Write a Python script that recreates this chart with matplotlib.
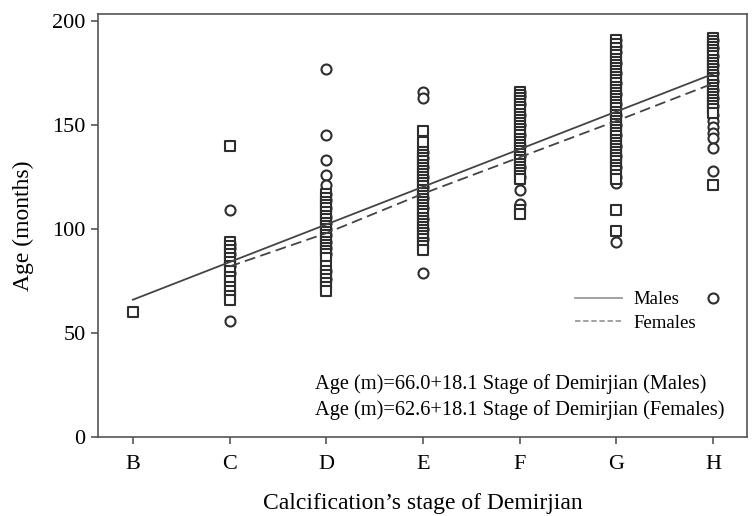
import matplotlib
matplotlib.use("Agg")
import matplotlib.pyplot as plt
from matplotlib.lines import Line2D

plt.rcParams['font.family'] = ['Liberation Serif', 'DejaVu Serif']

stages = ["B", "C", "D", "E", "F", "G", "H"]

# Males (circles)
male_C = [109, 93, 91, 88, 82, 79, 56]
male_D = [177, 145, 133, 126, 121, 117, 114, 110, 106, 103, 100, 97, 94, 91, 88, 80, 76]
male_E = [166, 163, 137, 134, 130, 125, 120, 115, 110, 105, 100, 95, 79]
male_F = [166, 164, 160, 155, 150, 145, 140, 135, 130, 125, 119, 112]
male_G = [191, 188, 185, 180, 175, 170, 165, 160, 155, 150, 145, 140, 135, 130, 125, 122, 94]
male_H = [191, 187, 183, 179, 175, 171, 167, 163, 159, 155, 152, 149, 146, 144, 139, 128, 67]

# Females (squares)
fem_B = [60]
fem_C = [140, 94, 92, 90, 88, 86, 84, 82, 80, 77, 75, 72, 70, 68, 66]
fem_D = [117, 115, 113, 111.5, 110, 108, 106.5, 105, 103, 101.5, 100, 98.5, 97, 95.5, 94,
         92.5, 91, 89.5, 88, 86, 82, 80, 78, 76, 74, 72, 70]
fem_E = [147, 142, 137, 135.5, 134, 132.5, 131, 129.5, 128, 126.5, 125, 123.5, 122, 120.5,
         119, 117.5, 116, 114.5, 113, 111.5, 110, 108.5, 107, 105.5, 104, 102.5, 101, 99.5,
         98, 96.5, 95, 93.5, 92, 90]
fem_F = [166, 164.5, 163, 161.5, 160, 158.5, 157, 155.5, 154, 152.5, 151, 149.5, 148, 146.5,
         145, 143.5, 142, 140.5, 139, 137.5, 136, 134.5, 133, 131.5, 130, 128.5, 127, 125.5,
         124, 109, 107]
fem_G = [191, 189, 187, 185, 183.5, 182, 180.5, 179, 177.5, 176, 174.5, 173, 171.5, 170,
         168.5, 167, 165.5, 164, 162.5, 161, 159.5, 158, 156.5, 155, 153.5, 152, 150.5, 149,
         147.5, 146, 144.5, 143, 141.5, 140, 138.5, 137, 135.5, 134, 132.5, 131, 129.5, 128,
         126, 124, 109, 99]
fem_H = [192, 190.5, 189, 187.5, 186, 184.5, 183, 181.5, 180, 178.5, 177, 175.5, 174, 172.5,
         171, 169.5, 168, 166.5, 165, 163.5, 162, 160.5, 159, 157.5, 156, 121]

male_points = {"C": male_C, "D": male_D, "E": male_E, "F": male_F, "G": male_G, "H": male_H}
fem_points = {"B": fem_B, "C": fem_C, "D": fem_D, "E": fem_E, "F": fem_F, "G": fem_G, "H": fem_H}

# Fitted lines
male_line_stages = ["B", "H"]
male_line_vals = [66.0, 174.6]
fem_line_stages = ["C", "D", "E", "F", "G", "H"]
fem_line_vals = [82, 98, 117, 134.5, 152, 170]

eq_texts = ["Age (m)=66.0+18.1 Stage of Demirjian (Males)",
            "Age (m)=62.6+18.1 Stage of Demirjian (Females)"]

fig = plt.figure(figsize=(7.53, 5.16), dpi=100)
ax = fig.add_axes([98/753, 1-437/516, (747-98)/753, (437-14)/516])

idx = {s: i for i, s in enumerate(stages)}
mk_col = '#2e2e2e'
for s, vals in male_points.items():
    ax.scatter([idx[s]]*len(vals), vals, marker='o', s=52, facecolors='white',
               edgecolors=mk_col, linewidths=1.5, zorder=2)
for s, vals in fem_points.items():
    ax.scatter([idx[s]]*len(vals), vals, marker='s', s=48, facecolors='white',
               edgecolors=mk_col, linewidths=1.5, zorder=3)

ax.plot([idx[s] for s in male_line_stages], male_line_vals, color='#444444', lw=1.3, zorder=4)
ax.plot([idx[s] for s in fem_line_stages], fem_line_vals, color='#444444', lw=1.3,
        dashes=(6, 3), zorder=4)

ax.set_xlim(-0.36, 6.35)
ax.set_ylim(0, 203.4)
ax.set_xticks(range(len(stages)))
ax.set_xticklabels(stages)
ax.set_yticks([0, 50, 100, 150, 200])
ax.tick_params(direction='out', length=5, width=1.2, color='#555555', labelsize=16, pad=4)
ax.tick_params(axis='x', pad=8)
for sp in ax.spines.values():
    sp.set_color('#555555')
    sp.set_linewidth(1.2)

ax.set_ylabel("Age (months)", fontsize=17, labelpad=13)
ax.set_xlabel("Calcification\u2019s stage of Demirjian", fontsize=17, labelpad=14)

handles = [Line2D([], [], color='#9a9a9a', lw=1.3),
           Line2D([], [], color='#9a9a9a', lw=1.3, dashes=(3, 1.5))]
ax.legend(handles, ["Males", "Females"], loc='upper left', bbox_to_anchor=(0.735, 0.345),
          frameon=False, fontsize=13.5, borderpad=0, borderaxespad=0, handlelength=2.5,
          handletextpad=0.6, labelspacing=0.35)

ax.text(0.335, 0.125, eq_texts[0], transform=ax.transAxes, fontsize=14.7, va='center', ha='left')
ax.text(0.335, 0.064, eq_texts[1], transform=ax.transAxes, fontsize=14.7, va='center', ha='left')

fig.savefig("out.png", dpi=100)
